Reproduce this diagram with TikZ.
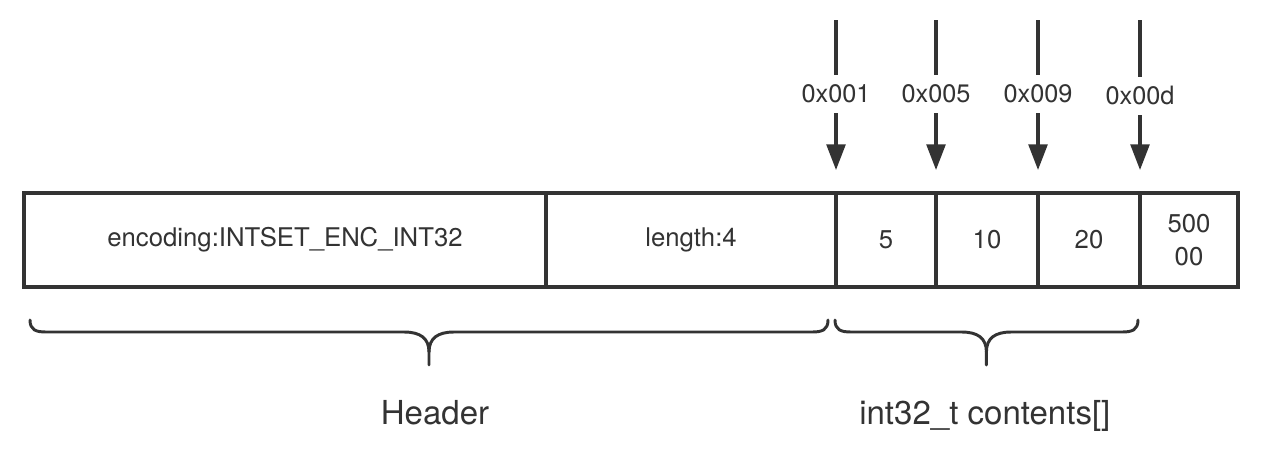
\documentclass[tikz,border=0pt]{standalone}
\usepackage{fontspec}
\setmainfont{TeX Gyre Heros}
\usetikzlibrary{positioning, arrows.meta}
\definecolor{Linija}{HTML}{333333}
\tikzset{
  celija/.style    = {rectangle, draw=Linija, line width=2.2pt, outer sep=0pt,
                      inner sep=0pt, minimum height=2.35cm, align=center,
                      text=Linija, font=\fontsize{18.3}{23.5}\selectfont},
  adresa/.style    = {text=Linija, font=\fontsize{18}{22}\selectfont,
                      minimum height=0.95cm, inner sep=0pt},
  natpis/.style    = {text=Linija, font=\fontsize{23.5}{28}\selectfont, anchor=base},
  crta/.style      = {draw=Linija, line width=2.2pt},
  pokazivac/.style = {crta, -{Triangle[length=0.64cm, width=0.47cm]},
                      shorten >=0.575cm},
  zagrada/.style   = {draw=Linija, line width=2.1pt, line cap=round, line join=round},
}

\begin{document}
\begin{tikzpicture}
  \useasboundingbox (0,0) rectangle (31.65,11.85);

  % intset u memoriji
  \node[celija, minimum width=13.05cm, anchor=west] (kod) at (0.6,5.85)
        {encoding:INTSET\_ENC\_INT32};
  \node[celija, minimum width=7.25cm, right=0pt of kod] (duz) {length:4};
  \node[celija, minimum width=2.5cm,  right=0pt of duz] (e1)  {5};
  \node[celija, minimum width=2.55cm, right=0pt of e1]  (e2)  {10};
  \node[celija, minimum width=2.55cm, right=0pt of e2]  (e3)  {20};
  \node[celija, minimum width=2.45cm, right=0pt of e3]  (e4)  {500\\00};

  % adrese elemenata
  \node[adresa] (a1) at ([yshift=2.475cm]e1.north west) {0x001};
  \node[adresa] (a2) at ([yshift=2.475cm]e2.north west) {0x005};
  \node[adresa] (a3) at ([yshift=2.475cm]e3.north west) {0x009};
  \node[adresa] (a4) at ([yshift=2.43cm]e4.north west)  {0x00d};
  \coordinate (v1) at ([yshift=4.325cm]e1.north west);
  \coordinate (v2) at ([yshift=4.325cm]e2.north west);
  \coordinate (v3) at ([yshift=4.325cm]e3.north west);
  \coordinate (v4) at ([yshift=4.325cm]e4.north west);

  \draw[crta] (v1) -- (a1);
  \draw[crta] (v2) -- (a2);
  \draw[crta] (v3) -- (a3);
  \draw[crta] (v4) -- (a4);
  \draw[pokazivac] (a1) -- (e1.north west);
  \draw[pokazivac] (a2) -- (e2.north west);
  \draw[pokazivac] (a3) -- (e3.north west);
  \draw[pokazivac] (a4) -- (e4.north west);

  % zagrade
  \draw[zagrada] (0.75,3.85) .. controls (0.75,3.6) and (0.9,3.55) .. (1.15,3.55)
        -- (10.1,3.55) .. controls (10.5,3.55) and (10.725,3.4) .. (10.725,3.05)
        -- (10.725,2.725);
  \draw[zagrada] (10.725,3.05) .. controls (10.725,3.4) and (10.95,3.55) .. (11.35,3.55)
        -- (20.3,3.55) .. controls (20.55,3.55) and (20.7,3.6) .. (20.7,3.85);
  \draw[zagrada] (20.875,3.85) .. controls (20.875,3.6) and (21.025,3.55) .. (21.275,3.55)
        -- (24.04,3.55) .. controls (24.44,3.55) and (24.66,3.4) .. (24.66,3.05)
        -- (24.66,2.725);
  \draw[zagrada] (24.66,3.05) .. controls (24.66,3.4) and (24.88,3.55) .. (25.28,3.55)
        -- (28.05,3.55) .. controls (28.3,3.55) and (28.45,3.6) .. (28.45,3.85);
  \coordinate (z1) at (10.725,2.725);
  \coordinate (z2) at (24.66,2.725);

  \node[natpis] (zaglavlje) at ([xshift=0.15cm, yshift=-1.475cm]z1) {Header};
  \node[natpis] (sadrzaj)   at ([xshift=-0.04cm, yshift=-1.475cm]z2) {int32\_t contents[]};
\end{tikzpicture}
\end{document}
